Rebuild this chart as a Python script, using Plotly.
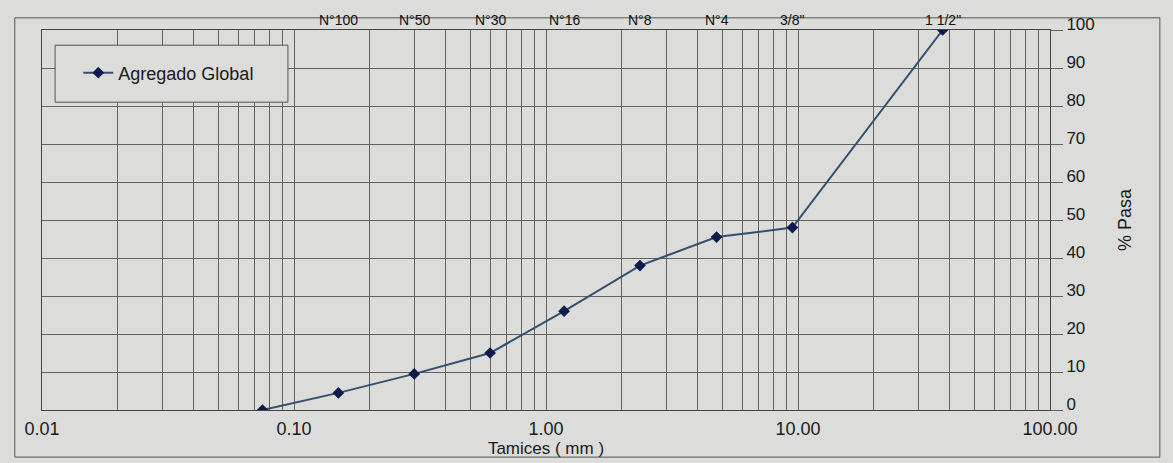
import math
import plotly.graph_objects as go

# Sieve analysis of the global aggregate
sieve_mm = [0.075, 0.15, 0.30, 0.60, 1.18, 2.36, 4.75, 9.5, 37.5]
pct_passing = [0, 4.5, 9.5, 15, 26, 38, 45.5, 48, 100]

# Sieve names printed along the top edge
top_sizes = [0.15, 0.30, 0.60, 1.18, 2.36, 4.75, 9.5, 37.5]
top_names = ["N°100", "N°50", "N°30", "N°16", "N°8", "N°4", "3/8\"", "1 1/2\""]

# Log axis: decades labelled, every 1..9 multiple gets a grid line
decades = [0.01, 0.1, 1, 10, 100]
decade_text = ["0.01", "0.10", "1.00", "10.00", "100.00"]

y_ticks = list(range(0, 101, 10))

x_tickvals, x_ticktext = [], []
for e in range(-2, 2):
    for m in range(1, 10):
        v = m * 10 ** e
        x_tickvals.append(v)
        x_ticktext.append(decade_text[decades.index(v)] if m == 1 else "")
x_tickvals.append(100)
x_ticktext.append(decade_text[-1])

PAPER = "#dcdcda"
GRID = "#626262"
INK = "#1a1a1a"
FONT = "Liberation Sans, Arial, sans-serif"

fig = go.Figure()
fig.add_trace(go.Scatter(
    x=sieve_mm, y=pct_passing,
    mode="lines+markers",
    name="Agregado Global",
    line=dict(color="#34506e", width=2),
    marker=dict(symbol="diamond", size=9, color="#0f1b4d",
                line=dict(color="#0f1b4d", width=0)),
))

fig.update_xaxes(
    type="log", range=[-2, 2],
    tickvals=x_tickvals, ticktext=x_ticktext,
    showgrid=True, gridcolor=GRID, gridwidth=1,
    showline=True, linecolor="#444", linewidth=1, mirror=True,
    ticks="", ticklabelstandoff=2,
    tickfont=dict(size=18, color=INK, family=FONT),
    title=dict(text="Tamices ( mm )", standoff=0,
               font=dict(size=17, color=INK, family=FONT)),
    zeroline=False,
)
fig.update_yaxes(
    side="right", range=[0, 100], tickvals=y_ticks,
    showgrid=True, gridcolor=GRID, gridwidth=1,
    showline=True, linecolor="#444", linewidth=1, mirror=True,
    ticks="outside", ticklen=12, tickcolor=GRID, ticklabelshift=-6,
    tickfont=dict(size=17, color=INK, family=FONT),
    title=dict(text="% Pasa", standoff=24,
               font=dict(size=18, color=INK, family=FONT)),
    zeroline=False,
)

for size, name in zip(top_sizes, top_names):
    fig.add_annotation(
        x=math.log10(size), y=1.0, xref="x", yref="paper",
        text=name, showarrow=False, yanchor="bottom", yshift=0,
        font=dict(size=14, color="#111", family=FONT),
    )

# Outer chart frame and legend box
fig.add_shape(type="rect", xref="paper", yref="paper",
              x0=-0.027, x1=1.109, y0=-0.124, y1=1.032,
              line=dict(color="#555", width=1), fillcolor="rgba(0,0,0,0)",
              layer="below")
fig.add_shape(type="rect", xref="paper", yref="paper",
              x0=0.013, x1=0.244, y0=0.81, y1=0.96,
              line=dict(color="#555", width=1), fillcolor=PAPER,
              layer="above")

fig.update_layout(
    width=1173, height=463,
    margin=dict(l=42, r=123, t=30, b=53),
    paper_bgcolor=PAPER, plot_bgcolor=PAPER,
    font=dict(family=FONT),
    showlegend=True,
    legend=dict(x=0.036, y=0.887, xanchor="left", yanchor="middle",
                bgcolor="rgba(0,0,0,0)", borderwidth=0,
                font=dict(size=18, color=INK, family=FONT)),
)

fig.write_html("out.html")
